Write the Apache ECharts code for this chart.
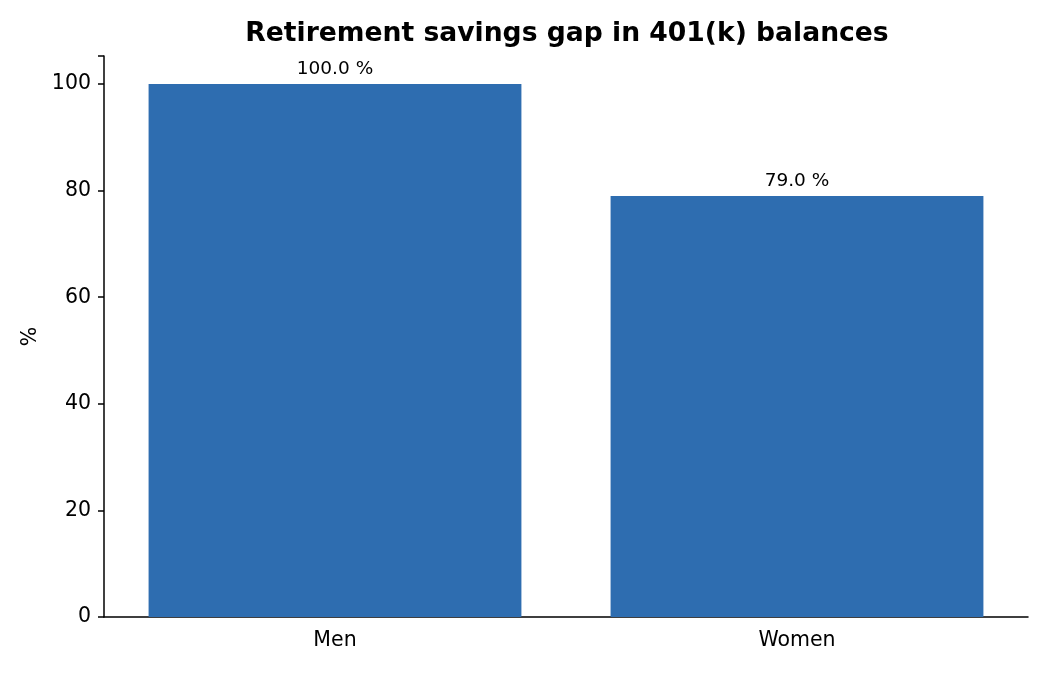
<!DOCTYPE html>
<html>
<head>
<meta charset="utf-8">
<script src="https://cdn.jsdelivr.net/npm/echarts@6/dist/echarts.min.js"></script>
<style>
  html, body { margin: 0; padding: 0; background: #fff; }
  #chart { width: 1050px; height: 675px; }
</style>
</head>
<body>
<div id="chart"></div>
<script>
// data
var categories = ['Men', 'Women'];
var shares = [100.0, 79.0];
var yTicks = [0, 20, 40, 60, 80, 100];

var chart = echarts.init(document.getElementById('chart'));

var option = {
    backgroundColor: '#ffffff',
    animation: false,
    textStyle: { fontFamily: 'DejaVu Sans' },
    title: {
        text: 'Retirement savings gap in 401(k) balances',
        left: 562,
        top: 16,
        textAlign: 'center',
        textStyle: { fontSize: 26.6, fontWeight: 'bold', color: '#000', fontFamily: 'DejaVu Sans' }
    },
    grid: { left: 104, right: 22, top: 56, bottom: 58 },
    xAxis: {
        type: 'category',
        data: categories,
        axisLine: { lineStyle: { color: '#000', width: 1.5 } },
        axisTick: { alignWithLabel: true, length: 6, lineStyle: { color: '#000', width: 1.5 } },
        axisLabel: { fontSize: 20.5, color: '#000', margin: 13 }
    },
    yAxis: {
        type: 'value',
        min: 0,
        max: 105.25,
        interval: 20,
        name: '%',
        nameLocation: 'middle',
        nameGap: 63,
        nameTextStyle: { fontSize: 20.5, color: '#000' },
        axisLine: { show: true, lineStyle: { color: '#000', width: 1.5 } },
        axisTick: { show: true, length: 6, lineStyle: { color: '#000', width: 1.5 } },
        axisLabel: {
            fontSize: 20.5, color: '#000', margin: 13,
            formatter: function (v) { return yTicks.indexOf(v) >= 0 ? v : ''; }
        },
        splitLine: { show: false }
    },
    series: [{
        type: 'bar',
        data: shares,
        barWidth: '80.7%',
        itemStyle: { color: '#2e6db0' },
        label: {
            show: true,
            position: 'top',
            distance: 5,
            fontSize: 18.5,
            color: '#000',
            formatter: function (p) { return p.value.toFixed(1) + ' %'; }
        }
    }]
};

chart.setOption(option);
</script>
</body>
</html>
